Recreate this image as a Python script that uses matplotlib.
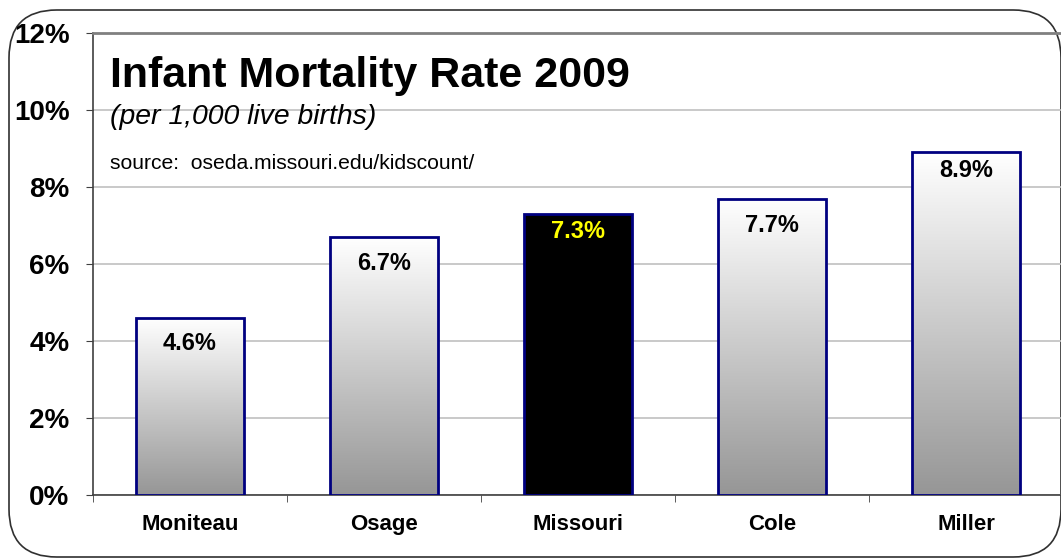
import numpy as np
import matplotlib.pyplot as plt
from matplotlib.patches import FancyBboxPatch
from matplotlib.colors import LinearSegmentedColormap

plt.rcParams['font.family'] = ['Liberation Sans', 'DejaVu Sans']

counties = ["Moniteau", "Osage", "Missouri", "Cole", "Miller"]
rates = [4.6, 6.7, 7.3, 7.7, 8.9]
yticks = [0, 2, 4, 6, 8, 10, 12]
ytick_labels = ["0%", "2%", "4%", "6%", "8%", "10%", "12%"]
highlight = "Missouri"

# how far each value label sits below its bar top (pixels)
label_drop = [26, 26, 18, 27, 18]

W, H = 1061, 560
fig = plt.figure(figsize=(W / 100, H / 100), dpi=100)
fig.patch.set_facecolor("white")

# rounded frame round the chart, kept behind the axes
frame = FancyBboxPatch((9 / W, 3 / H), 1052 / W, 547 / H,
                       boxstyle="round,pad=0,rounding_size=0.045",
                       transform=fig.transFigure, facecolor="white",
                       edgecolor="#303030", linewidth=1.2, zorder=-1,
                       mutation_aspect=W / H)
fig.patches.append(frame)

ax = fig.add_axes([93 / W, 65 / H, 970 / W, 462 / H])
ax.set_facecolor("none")
x = np.arange(len(counties))
ax.set_xlim(-0.5, len(counties) - 0.5)
ax.set_ylim(0, 12)
px = 12 / 462  # data units per pixel on the y axis

grey_fade = LinearSegmentedColormap.from_list("fade", ["#969696", "#ffffff"])
grad = np.linspace(0, 1, 256).reshape(-1, 1)
bw = 0.56

bars = ax.bar(x, rates, width=bw, facecolor="none", edgecolor="#000080",
              linewidth=2, zorder=4)
for b, name, v, d in zip(bars, counties, rates, label_drop):
    if name == highlight:
        b.set_facecolor("black")
        col = "#ffff00"
    else:
        im = ax.imshow(grad, cmap=grey_fade, aspect="auto", origin="lower",
                       extent=[b.get_x(), b.get_x() + bw, 0, v], zorder=3)
        im.set_clip_path(b)
        col = "black"
    ax.text(b.get_x() + bw / 2, v - d * px, f"{v:.1f}%", ha="center",
            va="center", fontsize=17, fontweight="bold", color=col, zorder=5)

ax.set_yticks(yticks)
ax.set_yticklabels(ytick_labels, fontsize=20, fontweight="bold")
ax.set_xticks(x)
ax.set_xticklabels(counties, fontsize=16, fontweight="bold")
ax.set_xticks(np.arange(len(counties) + 1) - 0.5, minor=True)
ax.tick_params(axis="x", which="major", length=0, pad=14)
ax.tick_params(axis="x", which="minor", length=5, color="#404040")
ax.tick_params(axis="y", length=5, color="#404040", pad=12)
ax.grid(axis="y", color="#c0c0c0", linewidth=1.2, zorder=1)
ax.set_axisbelow(True)
for s in ["left", "bottom"]:
    ax.spines[s].set_color("#404040")
    ax.spines[s].set_linewidth(1.2)
ax.spines["top"].set_color("#808080")
ax.spines["top"].set_linewidth(2)
ax.spines["right"].set_visible(False)

fig.text(110 / W, 1 - 87 / H, "Infant Mortality Rate 2009", fontsize=31,
         fontweight="bold", va="baseline")
fig.text(110 / W, 1 - 124 / H, "(per 1,000 live births)", fontsize=20.4,
         style="italic", va="baseline")
fig.text(110 / W, 1 - 169 / H, "source:  oseda.missouri.edu/kidscount/",
         fontsize=15.2, va="baseline")

fig.savefig("out.png", dpi=100)
